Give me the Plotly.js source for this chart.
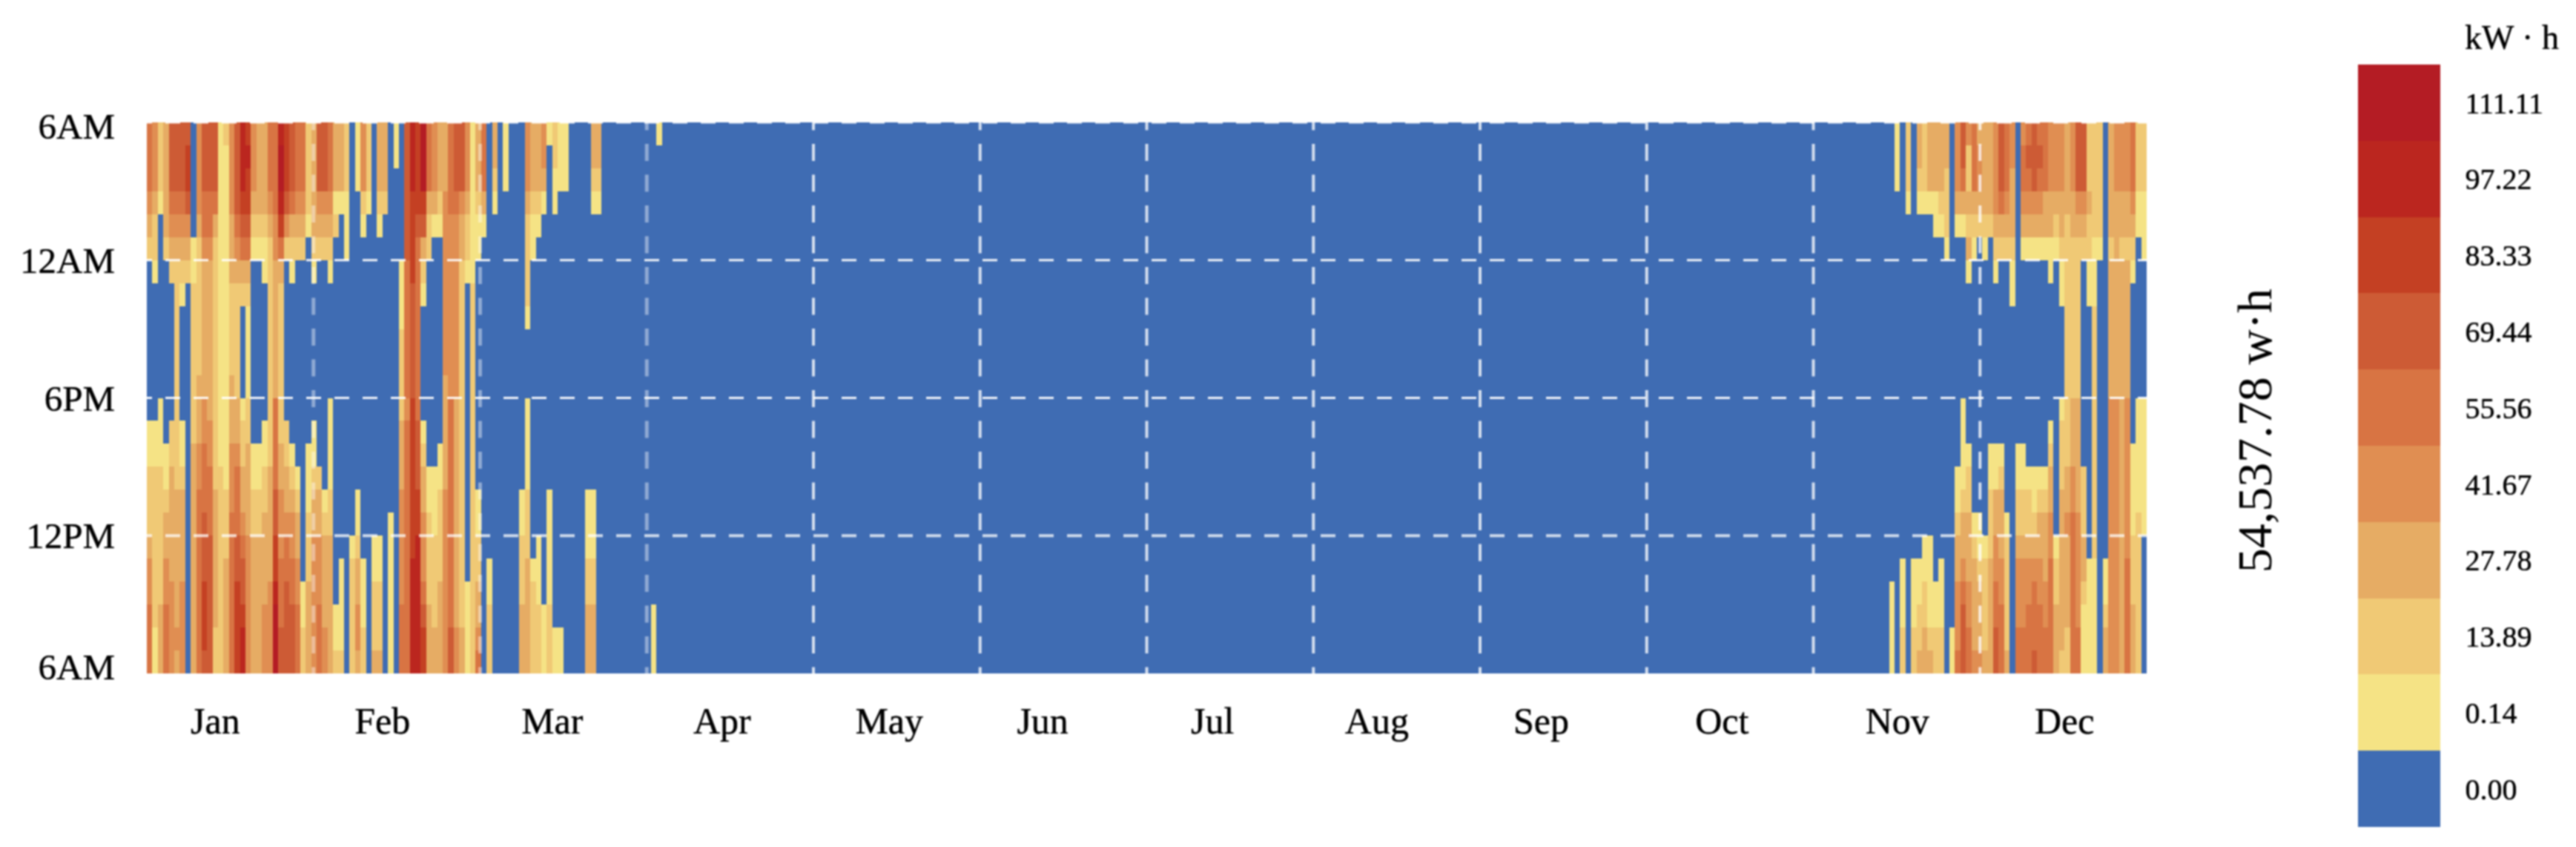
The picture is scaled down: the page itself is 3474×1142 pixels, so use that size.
<!DOCTYPE html>
<html>
<head>
<meta charset="utf-8">
<script src="https://cdn.plot.ly/plotly-3.0.1.min.js"></script>
<style>
html,body{margin:0;padding:0;background:#fff;}
#chart{width:3474px;height:1142px;filter:blur(0.8px);}
</style>
</head>
<body>
<div id="chart"></div>
<script>
// Band labels of the legend, lowest to highest (kW·h)
const bandLabels = ['0.00','0.14','13.89','27.78','41.67','55.56','69.44','83.33','97.22','111.11'];
const bandColors = ['#3f6cb3','#f5e385','#f0c975','#e6ac64','#e08e52','#d87443','#cd5b35','#c44023','#bb261f','#b41c24'];
const monthLabels = ['Jan','Feb','Mar','Apr','May','Jun','Jul','Aug','Sep','Oct','Nov','Dec'];
const monthLabelDays = [12.5,43,74,105,135.5,163.5,194.5,224.5,254.5,287.5,319.5,350];
const hourLabels = ['6AM','12AM','6PM','12PM','6AM'];
const hourLabelRows = [0.15,6,12,18,23.7];
const DAYS_IN_YEAR = 365, HOURS_IN_DAY = 24;
const NONE = '000000 000000 000000 000000';

// One string per day; one band digit per hour, top row (6AM) first. Days 1-94.
const earlyYearDays = [
'555432 000000 011222 344555','444322 100000 011222 222211','222100 000000 111222 222333','333332 000000 001123 344555',
'666543 200000 022333 334444','666543 222222 222233 333343','666543 210000 011233 334444','677643 200000 000000 000000',
'000001 122222 223333 333333','444432 222223 334455 555555','666554 333333 445556 667776','666554 333333 344555 666666',
'666532 222222 222233 333322','111111 111111 111222 222222','211111 111111 111122 233333','444433 322223 334445 555555',
'666654 322222 334555 667777','888765 320000 122334 566788','787765 321111 223333 444444','444321 000000 001122 333333',
'333321 000000 001122 333333','333321 100000 011223 333444','555432 222222 222333 334444','555544 333333 555566 778999',
'899875 322222 223344 455566','777642 000000 022334 556666','666532 100000 001234 455666','555432 000000 000123 344555',
'555432 000000 000000 001122','222210 000000 001112 223333','333332 100000 011233 444444','666432 000000 000233 444555',
'666432 000000 000012 333344','555432 100000 111122 333333','333120 000000 000000 000112','333100 000000 000000 011112',
'222111 000000 000000 000000','000000 000000 000000 122222','111000 000000 000011 233443','444210 000000 000000 011122',
'222100 000000 000000 000000','000000 000000 000000 112223','333210 000000 000000 112223','333200 000000 000000 000000',
'000000 000000 000001 111111','110000 000000 000000 000000','000000 111222 233344 444555','666666 555555 455555 555555',
'888777 766666 777777 788888','777765 555555 566677 888888','999763 210000 012334 445677','555322 000000 000112 222333',
'444310 000000 000111 222233','333210 000000 001122 223333','333444 444443 333344 444444','555544 444444 555555 555566',
'666544 444444 333333 333344','666433 222222 222222 222233','444322 100000 000000 001111','111111 122222 222222 222222',
'333211 000000 000011 223345','555310 000000 000000 000000','000000 000000 000000 011222','332100 000000 000000 000000',
NONE,'111000 000000 000000 000000',NONE,NONE,
'000000 000000 000011 222333','444322 221000 111122 233333','333211 000000 000000 012222','333210 000000 000000 111222',
'443100 000000 000000 000111','100000 000000 000011 111222','221100 000000 000000 000011','111000 000000 000000 000011',
'111000 000000 000000 000000',NONE,NONE,NONE,
'000000 000000 000011 122333','332100 000000 000011 122333','332100 000000 000000 000000',NONE,
NONE,NONE,NONE,NONE,NONE,NONE,NONE,NONE,
'000000 000000 000000 000111','100000 000000 000000 000000'
];

// Days 317-365, same encoding.
const lateYearDays = [
NONE,NONE,
'000000 000000 000000 001111','111000 000000 000000 000000','000000 000000 000000 011122','222100 000000 000000 000000',
'000000 000000 000000 011122','332100 000000 000000 011223','222100 000000 000000 112233','333100 000000 000000 111123',
'333110 000000 000000 001122','333210 000000 000000 011122','332221 000000 000000 000000','000000 000000 000000 000011',
'444310 000000 000112 334445','665310 000000 111123 345666','422323 100000 001223 334455','555321 000000 000001 233334',
'344320 000000 000001 123334','333321 000000 000000 122223','333320 000000 001122 233333','444432 100000 001133 445566',
'666532 000000 001233 344555','555432 000000 000001 222223','443332 110000 000000 000000','000000 000000 001122 344455',
'455431 000000 001122 344455','565431 000000 000122 344555','666431 000000 000112 345556','565431 000000 000123 344555',
'555331 000000 000123 334455','444331 100000 012334 455555','444321 000000 000000 122333','444332 110000 122233 333332',
'333322 222222 222334 333322','444332 222222 333445 555555','666432 222222 333334 444455','666432 000000 000222 332111',
'222322 110000 000000 011111','222221 112222 222222 211111','222221 000000 000000 000000','000000 000000 000000 011233',
'333332 333333 444444 444444','444333 333333 444444 444444','444332 333333 333333 333333','444332 333333 444444 455555',
'555432 100000 001111 222333','222110 000000 111112 222222','222111 000000 111111 000000'
];

const daysInPicture = earlyYearDays
  .concat(Array(DAYS_IN_YEAR - earlyYearDays.length - lateYearDays.length).fill(NONE))
  .concat(lateYearDays)
  .map(s => s.replace(/ /g,'').split('').map(Number));

const dayCentres = daysInPicture.map((_, d) => d + 0.5);
const hourCentres = Array.from({length:HOURS_IN_DAY}, (_, h) => h + 0.5);
const zBands = hourCentres.map((_, h) => daysInPicture.map(day => day[h]));

const n = bandColors.length;
const stepped = [];
bandColors.forEach((c,i) => { stepped.push([i/n,c]); stepped.push([(i+1)/n,c]); });

const W = 3474, H = 1142, L = 198, R = 2895, T = 164.5, B = 908;
const paperX = px => (px - L) / (R - L);
const paperY = px => (B - px) / (B - T);

const shapes = [];
[0,6,12,18].forEach(row => shapes.push({
  type:'line', xref:'x', yref:'y', layer:'above', x0:-1.76, x1:DAYS_IN_YEAR, y0:row, y1:row,
  line:{color: row===18 ? 'rgba(255,255,255,0.75)' : 'rgba(255,255,255,0.92)', width: row===18 ? 4 : 3, dash:'20px,18px'}
}));
for (let k = 1; k < 12; k++) {
  const x = k * DAYS_IN_YEAR / 12;
  shapes.push({
    type:'line', xref:'x', yref:'y', layer:'above', x0:x, x1:x, y0:-0.4, y1:HOURS_IN_DAY,
    line:{color: k<=3 ? 'rgba(255,255,255,0.42)' : 'rgba(255,255,255,0.78)', width: k<=3 ? 5 : 4, dash:'23px,18.5px'}
  });
}

const serif = '"Liberation Serif", serif';
const thicken = '0 0 1px #000';
Plotly.newPlot('chart', [{
  type:'heatmap', x:dayCentres, y:hourCentres, z:zBands,
  colorscale:stepped, zmin:-0.5, zmax:n-0.5, hoverinfo:'skip', xgap:0, ygap:0,
  colorbar:{
    xref:'container', yref:'container', x:3180/W, xanchor:'left', y:1-134/H, yanchor:'top',
    thickness:111, thicknessmode:'pixels', len:1028, lenmode:'pixels', xpad:0, ypad:0,
    outlinewidth:0, borderwidth:0, ticks:'outside', ticklen:26, tickwidth:0, tickcolor:'rgba(0,0,0,0)',
    ticklabeloverflow:'allow',
    tickmode:'array', tickvals:bandLabels.map((_,i)=>i), ticktext:bandLabels,
    tickfont:{family:serif,size:40,color:'#000',shadow:thicken}
  }
}], {
  width:W, height:H, autosize:false,
  paper_bgcolor:'#fff', plot_bgcolor:'#fff',
  margin:{l:L, r:W-R, t:T, b:H-B, pad:0, autoexpand:false},
  xaxis:{range:[0,DAYS_IN_YEAR], showgrid:false, zeroline:false, showline:false, ticks:'',
    tickmode:'array', tickvals:monthLabelDays, ticktext:monthLabels, tickangle:0,
    ticklabelstandoff:30, tickfont:{family:serif,size:50,color:'#000',shadow:thicken}},
  yaxis:{range:[HOURS_IN_DAY,0], showgrid:false, zeroline:false, showline:false, ticks:'',
    tickmode:'array', tickvals:hourLabelRows, ticktext:hourLabels,
    ticklabelstandoff:42, tickfont:{family:serif,size:49,color:'#000',shadow:thicken}},
  shapes:shapes,
  annotations:[
    {xref:'paper', yref:'paper', x:paperX(3040), y:paperY(581), xanchor:'center', yanchor:'middle',
     text:'54,537.78 w·h', textangle:-90, showarrow:false, font:{family:serif,size:66,color:'#000'}},
    {xref:'paper', yref:'paper', x:paperX(3387), y:paperY(50), xanchor:'center', yanchor:'middle',
     text:'kW · h', showarrow:false, font:{family:serif,size:46,color:'#000',shadow:thicken}}
  ]
}, {displayModeBar:false, staticPlot:true});
</script>
</body>
</html>
